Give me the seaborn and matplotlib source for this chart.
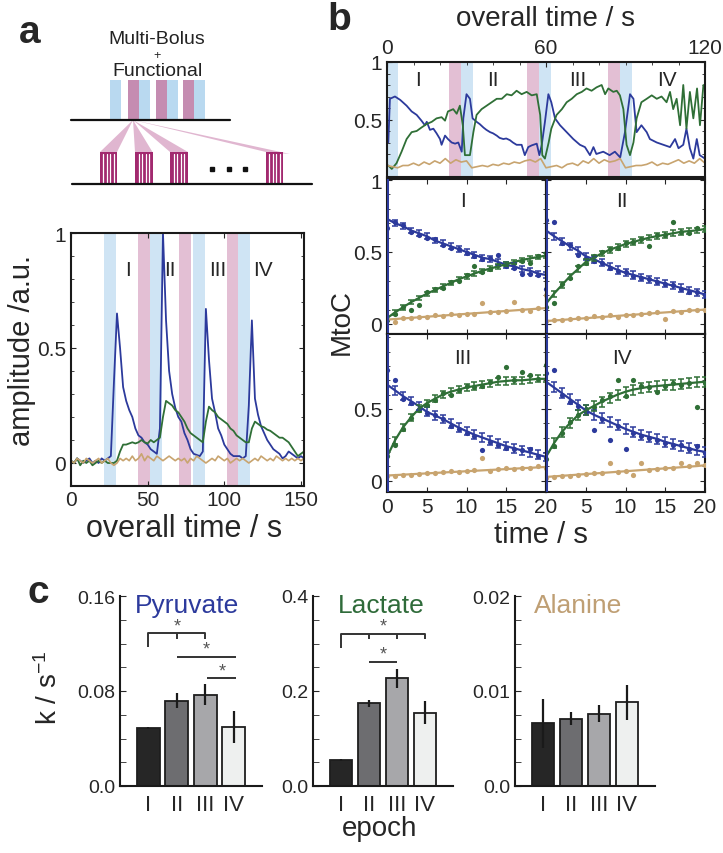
import numpy as np
import pandas as pd
import matplotlib
matplotlib.use("Agg")
import matplotlib.pyplot as plt
import seaborn as sns
from matplotlib.patches import Rectangle, Polygon
from matplotlib.ticker import MultipleLocator

sns.set_style("ticks")
plt.rcParams['font.family'] = ['Liberation Sans', 'DejaVu Sans']
plt.rcParams['mathtext.fontset'] = 'custom'
plt.rcParams['mathtext.rm'] = 'Liberation Sans'
plt.rcParams['mathtext.it'] = 'Liberation Sans'

# ---------------- DATA ----------------
EPOCHS = ["I", "II", "III", "IV"]

# panel a : amplitude vs overall time (2 s sampling)
TA = np.arange(0, 153, 2)
PA_PYR = [0.01, 0.00, 0.02, 0.01, 0.00, 0.01, 0.02, 0.00, 0.01, 0.00,
          0.02, 0.01, 0.02, 0.03, 0.35, 0.65, 0.50, 0.33, 0.27, 0.23,
          0.20, 0.15, 0.12, 0.11, 0.09, 0.08, 0.06, 0.05, 0.04, 0.15,
          1.00, 0.62, 0.40, 0.30, 0.24, 0.20, 0.18, 0.13, 0.10, 0.06,
          0.04, 0.035, 0.03, 0.05, 0.67, 0.45, 0.28, 0.22, 0.15, 0.12,
          0.08, 0.06, 0.04, 0.03, 0.03, 0.03, 0.02, 0.03, 0.25, 0.62,
          0.28, 0.21, 0.16, 0.13, 0.10, 0.08, 0.06, 0.05, 0.04, 0.02,
          0.03, 0.05, 0.04, 0.03, 0.02, 0.03, 0.02]
PA_LAC = [0.01, 0.00, 0.02, -0.01, 0.01, 0.00, 0.01, -0.01, 0.00, 0.01,
          0.00, 0.01, 0.00, 0.00, 0.00, 0.01, 0.05, 0.08, 0.08, 0.085,
          0.09, 0.085, 0.09, 0.10, 0.09, 0.085, 0.10, 0.09, 0.10, 0.11,
          0.20, 0.27, 0.26, 0.25, 0.23, 0.22, 0.20, 0.18, 0.15, 0.13,
          0.12, 0.11, 0.10, 0.09, 0.18, 0.245, 0.23, 0.22, 0.20, 0.19,
          0.18, 0.17, 0.15, 0.14, 0.12, 0.11, 0.10, 0.09, 0.09, 0.15,
          0.18, 0.17, 0.16, 0.155, 0.145, 0.14, 0.13, 0.12, 0.11, 0.11,
          0.10, 0.09, 0.07, 0.05, 0.03, 0.04, 0.05]
PA_ALA = [0.01, 0.00, 0.02, 0.01, 0.00, 0.02, 0.01, 0.00, 0.01, 0.02,
          0.00, 0.01, 0.02, 0.00, -0.01, 0.00, 0.02, 0.01, 0.02, 0.01,
          0.03, 0.01, 0.02, 0.04, 0.01, 0.03, 0.02, 0.01, 0.03, 0.02,
          0.01, 0.02, 0.03, 0.02, 0.01, 0.02, 0.01, 0.02, 0.00, 0.02,
          0.01, 0.03, 0.02, 0.01, 0.00, 0.01, 0.02, 0.01, 0.03, 0.02,
          0.01, 0.02, 0.00, 0.01, 0.02, 0.01, 0.02, 0.01, 0.00, 0.01,
          0.02, 0.01, 0.03, 0.02, 0.01, 0.02, 0.01, 0.03, 0.02, 0.01,
          0.02, 0.01, 0.02, 0.01, 0.02, 0.01, 0.02]
PA_BLUE_BANDS = [(21.7, 29.3), (51.5, 59.6), (79.8, 87.4), (109.0, 116.7)]
PA_PINK_BANDS = [(43.9, 51.5), (70.4, 78.0), (101.5, 109.0)]
PA_LABEL_X = [37, 64.6, 96, 125]

# panel b top : MtoC vs overall time
TB_PYR = [(0.5, .30), (1.1, .68), (3, .70), (5, .67), (7.4, .62), (9.3, .57), (11.2, .54),
          (13, .49), (14.3, .45), (15, .48), (16.2, .41), (17.5, .42), (18.7, .38), (20, .33),
          (20.6, .28), (21.9, .36), (23, .33), (24.4, .30), (25.7, .29), (26.9, .30), (28.2, .22),
          (28.8, .51), (30, .72), (31.3, .68), (32.3, .51), (33.8, .48), (35, .46), (36.4, .43),
          (37.5, .41), (38.9, .39), (40, .38), (41.4, .36), (42.5, .34), (43.9, .33), (45, .335),
          (46.4, .32), (47.5, .30), (48.9, .28), (50.8, .28), (52, .19), (53.3, .26), (54.6, .275),
          (56.5, .29), (57.5, .19), (58.4, .28), (59.6, .48), (60.9, .72), (62, .65), (63.4, .51),
          (65.3, .45), (67.8, .39), (70.3, .33), (72.8, .28), (74.7, .26), (76.6, .19), (77.9, .26),
          (79, .20), (81.6, .22), (84, .19), (86, .22), (88, .17), (89.8, .39), (91.7, .72),
          (93, .68), (94.2, .39), (96, .45), (98, .39), (99.2, .33), (101.8, .30), (104.3, .28),
          (106.8, .26), (108.7, .33), (110, .25), (111.8, .28), (113, .42), (114.3, .25),
          (115.6, .16), (116.9, .33), (118, .19), (120, .16)]
TB_LAC = [(0.5, .10), (1.8, .07), (3.6, .12), (5.5, .22), (7.4, .33), (9.3, .39), (11.2, .40),
          (13, .43), (14.9, .46), (16.9, .48), (18.7, .51), (20.6, .52), (21.9, .49), (23, .57),
          (25, .59), (26.3, .55), (27.5, .62), (28.6, .45), (29.4, .19), (31.3, .19), (32.6, .39),
          (33.8, .54), (35.7, .59), (37.6, .62), (39.5, .65), (41.4, .68), (43.3, .68), (45.2, .72),
          (47, .71), (48.9, .75), (50.8, .72), (52.7, .74), (54.6, .71), (56.5, .72), (57.8, .54),
          (58.6, .19), (59.6, .16), (61, .30), (62, .42), (64, .54), (66, .59), (67.8, .65),
          (69.7, .68), (71.6, .72), (73.5, .74), (75.3, .77), (77.2, .75), (79.1, .78), (81, .80),
          (82.3, .72), (83.5, .77), (85.4, .74), (86.7, .75), (87.9, .71), (89.2, .59), (90.4, .28),
          (91.7, .19), (93, .30), (94.2, .51), (96, .65), (98, .68), (99.9, .71), (101.8, .68),
          (103.6, .70), (105.5, .65), (106.8, .74), (108, .59), (109.3, .68), (110.6, .45),
          (111.8, .80), (113, .42), (114.3, .74), (115.6, .51), (117, .77), (118.1, .45),
          (119.4, .80), (120, .78)]
TB_ALA_T = np.arange(0, 121, 2)
TB_ALA = [0.10, 0.09, 0.08, 0.10, 0.10, 0.12, 0.10, 0.13, 0.11, 0.14,
          0.12, 0.16, 0.12, 0.15, 0.13, 0.14, 0.08, 0.09, 0.10, 0.09,
          0.11, 0.10, 0.12, 0.11, 0.13, 0.12, 0.14, 0.15, 0.13, 0.16,
          0.08, 0.09, 0.10, 0.08, 0.11, 0.12, 0.10, 0.14, 0.12, 0.16,
          0.12, 0.15, 0.13, 0.14, 0.16, 0.08, 0.09, 0.10, 0.10, 0.11,
          0.13, 0.10, 0.12, 0.11, 0.13, 0.15, 0.12, 0.14, 0.12, 0.16, 0.12]
TB_BLUE_BANDS = [(0, 4.3), (27.8, 32.3), (57.4, 61.9), (87.9, 92.3)]
TB_PINK_BANDS = [(23.4, 27.8), (53.0, 57.4), (83.5, 87.9)]
TB_LABEL_X = [11.7, 40, 72, 105.7]

# panel b small panels : MtoC vs time within epoch
T_EPOCH = list(range(21))
FIT_PYR = {
    "I":   [.73, .70, .68, .65, .63, .61, .58, .56, .54, .52, .50, .48, .46, .45, .43, .41, .40, .38, .37, .35, .34],
    "II":  [.65, .61, .575, .54, .51, .47, .45, .425, .40, .375, .355, .34, .325, .31, .295, .28, .265, .25, .235, .22, .205],
    "III": [.67, .63, .59, .555, .52, .48, .455, .43, .40, .37, .345, .32, .30, .28, .26, .24, .225, .21, .195, .18, .165],
    "IV":  [.69, .65, .61, .57, .53, .49, .46, .435, .41, .385, .36, .34, .32, .305, .29, .27, .255, .24, .225, .21, .20],
}
FIT_LAC = {
    "I":   [.04, .08, .115, .15, .18, .21, .235, .26, .285, .31, .33, .35, .37, .385, .40, .415, .43, .445, .455, .465, .475],
    "II":  [.14, .21, .27, .33, .38, .43, .46, .49, .515, .535, .555, .57, .585, .60, .61, .62, .63, .64, .645, .65, .66],
    "III": [.165, .28, .37, .44, .50, .54, .57, .60, .62, .635, .65, .66, .67, .68, .69, .695, .70, .70, .705, .71, .71],
    "IV":  [.165, .26, .34, .40, .455, .49, .52, .55, .575, .60, .62, .635, .645, .655, .66, .665, .67, .675, .68, .685, .69],
}
FIT_ALA = {
    "I":   [.03, .034, .038, .042, .046, .05, .054, .058, .062, .066, .07, .074, .078, .082, .086, .09, .094, .098, .102, .106, .11],
    "II":  [.02, .024, .028, .032, .036, .04, .044, .048, .052, .056, .06, .064, .068, .072, .076, .08, .084, .088, .092, .096, .10],
    "III": [.035, .038, .041, .044, .047, .05, .053, .056, .059, .062, .065, .068, .071, .074, .077, .08, .083, .086, .089, .092, .095],
    "IV":  [.025, .029, .033, .037, .041, .045, .049, .053, .057, .061, .065, .069, .073, .077, .081, .085, .089, .093, .097, .101, .107],
}
DOT_PYR = {
    "I":   [.67, .71, .69, .64, .62, .60, .59, .55, .53, .52, .49, .47, .45, .46, .48, .40, .39, .35, .35, .34, .24],
    "II":  [.72, .71, .56, .55, .48, .46, .44, .42, .39, .37, .36, .33, .32, .31, .29, .28, .27, .24, .22, .22, .20],
    "III": [.77, .70, .57, .54, .50, .47, .46, .43, .38, .36, .33, .31, .21, .27, .25, .23, .22, .21, .22, .17, .16],
    "IV":  [.75, .77, .60, .55, .52, .48, .35, .43, .28, .38, .22, .33, .31, .30, .28, .26, .25, .25, .22, .24, .19],
}
DOT_LAC = {
    "I":   [.03, .07, .12, .095, .13, .22, .24, .25, .29, .30, .34, .40, .36, .38, .41, .41, .42, .44, .42, .47, .49],
    "II":  [.12, .145, .28, .32, .40, .42, .47, .50, .52, .53, .56, .57, .59, .54, .62, .62, .71, .64, .63, .67, .66],
    "III": [.17, .25, .36, .44, .49, .53, .56, .61, .60, .63, .66, .65, .66, .69, .72, .79, .70, .76, .74, .71, .81],
    "IV":  [.15, .24, .33, .41, .46, .50, .51, .56, .59, .70, .59, .70, .66, .65, .62, .66, .68, .67, .68, .51, .68],
}
DOT_ALA = {
    "I":   [.03, .015, .04, .04, .05, .045, .06, .055, .07, .06, .07, .07, .145, .085, .08, .09, .15, .10, .09, .11, .20],
    "II":  [.02, .025, .03, .035, .04, .04, .055, .05, .06, .05, .065, .06, .07, .075, .08, .037, .09, .085, .10, .095, .10],
    "III": [.03, .035, .04, .04, .045, .05, .05, .06, .065, .06, .07, .075, .16, .07, .08, .085, .08, .09, .085, .10, .09],
    "IV":  [.02, .025, .035, .03, .04, .045, .05, .05, .12, .06, .065, .037, .12, .075, .08, .09, .085, .12, .10, .12, .11],
}
ERR_PYR = [0.02, 0.025, 0.03, 0.035]
ERR_LAC = [0.015, 0.02, 0.025, 0.035]

# panel c : rate constants
K_PYR = [0.049, 0.072, 0.077, 0.050]
K_PYR_ERR = [0.001, 0.0065, 0.0085, 0.0135]
K_LAC = [0.055, 0.174, 0.227, 0.154]
K_LAC_ERR = [0.002, 0.008, 0.020, 0.024]
K_ALA = [0.0066, 0.0071, 0.0076, 0.0088]
K_ALA_ERR = [0.0026, 0.0007, 0.0009, 0.0018]

# ---------------- STYLE ----------------
C_PYR = "#2c3a9c"
C_LAC = "#2f6f36"
C_ALA = "#c8a46f"
BAND_BLUE = "#cfe4f4"
BAND_PINK = "#e3bfd4"
BAR_COLORS = ["#262626", "#6d6d70", "#a6a7aa", "#eef0ef"]

W, H = 723, 854
fig = plt.figure(figsize=(W / 100, H / 100), dpi=100)


def px_axes(l, t, r, b):
    return fig.add_axes([l / W, 1 - b / H, (r - l) / W, (b - t) / H])


def ftext(x, y, s, **kw):
    fig.text(x / W, 1 - y / H, s, **kw)


def style_spines(ax, lw=1.5):
    for sp in ax.spines.values():
        sp.set_linewidth(lw)
        sp.set_color("#1a1a1a")


# ---------------- panel a : schematic ----------------
ax0 = px_axes(0, 0, 330, 200)
ax0.set_xlim(0, 330)
ax0.set_ylim(200, 0)
ax0.axis("off")
for x0 in [110, 139, 167, 194]:
    ax0.add_patch(Rectangle((x0, 81), 11, 40, color="#b9d9f0", lw=0))
for x0 in [128, 156, 183]:
    ax0.add_patch(Rectangle((x0, 81), 11, 40, color="#c58cb1", lw=0))
apex = (133, 121)
for (xl, xr, yr) in [(100, 117, 153), (135, 152.5, 153), (170, 188, 153), (266, 290, 155)]:
    ax0.add_patch(Polygon([apex, (xl, 153), (xr, yr)], closed=True,
                          color="#dba9c8", alpha=0.85, lw=0))
for (xl, xr) in [(100, 117), (135, 152.5), (170, 188), (266, 283)]:
    ax0.add_patch(Rectangle((xl, 153), xr - xl, 32, color="#a2296f", lw=0))
    wdt = (xr - xl) / 5
    for k in range(1, 5):
        ax0.plot([xl + k * wdt, xl + k * wdt], [155, 185], color="white", lw=0.9)
ax0.plot([71, 230], [121, 121], color="#111", lw=1.6)
ax0.plot([72, 312], [185, 185], color="#111", lw=1.6)
ax0.plot([212, 229, 245], [170, 170, 170], "s", color="#111", ms=3)
ax0.text(157, 39, "Multi-Bolus", ha="center", va="center", fontsize=14, color="#222")
ax0.text(157, 56, "+", ha="center", va="center", fontsize=9, color="#222")
ax0.text(157, 71, "Functional", ha="center", va="center", fontsize=14, color="#222")

# ---------------- panel a : amplitude ----------------
axA = px_axes(71, 234, 304, 487)
for a, b in PA_BLUE_BANDS:
    axA.axvspan(a, b, color=BAND_BLUE, lw=0, zorder=0)
for a, b in PA_PINK_BANDS:
    axA.axvspan(a, b, color=BAND_PINK, lw=0, zorder=0)
dfa = pd.DataFrame({"t": TA, "pyr": PA_PYR, "lac": PA_LAC, "ala": PA_ALA})
sns.lineplot(data=dfa, x="t", y="pyr", ax=axA, color=C_PYR, lw=1.3, errorbar=None)
sns.lineplot(data=dfa, x="t", y="lac", ax=axA, color=C_LAC, lw=1.3, errorbar=None)
sns.lineplot(data=dfa, x="t", y="ala", ax=axA, color=C_ALA, lw=1.2, errorbar=None)
axA.set_xlim(0, 152)
axA.set_ylim(-0.1, 1)
axA.set_xticks([0, 50, 100, 150])
axA.set_yticks([0, 0.5, 1])
axA.set_yticklabels(["0", "0.5", "1"])
axA.yaxis.set_minor_locator(MultipleLocator(0.1))
axA.tick_params(which="both", direction="in", top=True, right=True)
axA.tick_params(axis="x", labelsize=15, pad=3)
axA.tick_params(axis="y", labelsize=15)
axA.set_xlabel("")
axA.set_ylabel("")
for lbl, x in zip(EPOCHS, PA_LABEL_X):
    axA.text(x, 0.84, lbl, ha="center", va="center", fontsize=15)
style_spines(axA)
ftext(22, 351, "amplitude /a.u.", rotation=90, ha="center", va="center", fontsize=21)
ftext(184, 529, "overall time / s", ha="center", va="center", fontsize=22)

# ---------------- panel b : top ----------------
axT = px_axes(387, 63, 705, 178)
for a, b in TB_BLUE_BANDS:
    axT.axvspan(a, b, color=BAND_BLUE, lw=0, zorder=0)
for a, b in TB_PINK_BANDS:
    axT.axvspan(a, b, color=BAND_PINK, lw=0, zorder=0)
tp, yp = zip(*TB_PYR)
tl, yl = zip(*TB_LAC)
sns.lineplot(x=list(tp), y=list(yp), ax=axT, color=C_PYR, lw=1.3, errorbar=None, sort=False)
sns.lineplot(x=list(tl), y=list(yl), ax=axT, color=C_LAC, lw=1.3, errorbar=None, sort=False)
sns.lineplot(x=TB_ALA_T, y=TB_ALA, ax=axT, color=C_ALA, lw=1.2, errorbar=None)
axT.set_xlim(0, 120)
axT.set_ylim(0, 1)
axT.xaxis.tick_top()
axT.set_xticks([0, 60, 120])
axT.set_yticks([0.5, 1])
axT.set_yticklabels(["0.5", "1"])
axT.yaxis.set_minor_locator(MultipleLocator(0.1))
axT.xaxis.set_minor_locator(MultipleLocator(10))
axT.tick_params(which="both", direction="in", top=True, bottom=False, right=True,
                labeltop=True, labelbottom=False)
axT.tick_params(labelsize=15)
axT.set_xlabel("")
axT.set_ylabel("")
for lbl, x in zip(EPOCHS, TB_LABEL_X):
    axT.text(x, 0.85, lbl, ha="center", va="center", fontsize=15)
style_spines(axT)
ftext(546, 19, "overall time / s", ha="center", va="center", fontsize=20)

# ---------------- panel b : small panels ----------------
small_pos = {"I": (387, 180, 546, 335), "II": (546, 180, 705, 335),
             "III": (387, 335, 546, 493), "IV": (546, 335, 705, 493)}
small_ylim = {"I": (-0.07, 1.007), "II": (-0.07, 1.007),
              "III": (-0.08, 1.023), "IV": (-0.08, 1.023)}
for i, ep in enumerate(EPOCHS):
    ax = px_axes(*small_pos[ep])
    for fit, dots, col in [(FIT_ALA[ep], DOT_ALA[ep], C_ALA),
                           (FIT_PYR[ep], DOT_PYR[ep], C_PYR),
                           (FIT_LAC[ep], DOT_LAC[ep], C_LAC)]:
        sns.scatterplot(x=T_EPOCH, y=dots, ax=ax, color=col, s=14, linewidth=0, zorder=3)
        sns.lineplot(x=T_EPOCH, y=fit, ax=ax, color=col, lw=1.6, errorbar=None, zorder=4)
    ax.errorbar(T_EPOCH[1:], FIT_PYR[ep][1:], yerr=ERR_PYR[i], fmt="none",
                ecolor=C_PYR, elinewidth=1.1, capsize=2, capthick=1.1, zorder=4)
    ax.errorbar(T_EPOCH[1:], FIT_LAC[ep][1:], yerr=ERR_LAC[i], fmt="none",
                ecolor=C_LAC, elinewidth=1.1, capsize=2, capthick=1.1, zorder=4)
    ax.axvline(0, color=C_PYR, lw=2.2, zorder=5)
    ax.set_xlim(0, 20)
    ax.set_ylim(*small_ylim[ep])
    ax.set_xticks([0, 5, 10, 15, 20])
    ax.yaxis.set_minor_locator(MultipleLocator(0.1))
    ax.tick_params(which="both", direction="in", top=True, right=True, labelsize=15)
    ax.set_xlabel("")
    ax.set_ylabel("")
    row2 = ep in ("III", "IV")
    col1 = ep in ("I", "III")
    if col1:
        if row2:
            ax.set_yticks([0, 0.5])
            ax.set_yticklabels(["0", "0.5"])
        else:
            ax.set_yticks([0, 0.5, 1])
            ax.set_yticklabels(["0", "0.5", "1"])
    else:
        ax.set_yticks([0, 0.5, 1] if not row2 else [0, 0.5])
        ax.set_yticklabels([])
    if row2:
        ax.set_xticklabels(["0", "5", "10", "15", "20"] if col1 else ["", "5", "10", "15", "20"])
    else:
        ax.set_xticklabels([])
    ax.text(9.5, 0.86, ep, ha="center", va="center", fontsize=15)
    style_spines(ax)
ftext(342, 322, "MtoC", rotation=90, ha="center", va="center", fontsize=20)
ftext(541, 535, "time / s", ha="center", va="center", fontsize=21)

# ---------------- panel c : bars ----------------
bar_pos = [(120, 597, 262, 787), (313, 597, 453, 787), (515, 597, 655, 787)]
bar_sets = [
    ("Pyruvate", K_PYR, K_PYR_ERR, C_PYR, 0.16, ["0.0", "0.08", "0.16"], 0.02, 0.475),
    ("Lactate", K_LAC, K_LAC_ERR, "#2f6b3a", 0.4, ["0.0", "0.2", "0.4"], 0.05, 0.49),
    ("Alanine", K_ALA, K_ALA_ERR, "#bf9f74", 0.02, ["0.0", "0.01", "0.02"], 0.0025, 0.454),
]
SIG_PYR_LINES = [[(0, 0.117), (0, 0.129), (2, 0.129), (2, 0.124)],
                 [(1, 0.129), (1, 0.124)],
                 [(1, 0.109), (3.1, 0.109)],
                 [(2.08, 0.091), (3.1, 0.091)]]
SIG_PYR_STARS = [(1, 0.135), (2.05, 0.115), (2.6, 0.097)]
SIG_LAC_LINES = [[(0, 0.29), (0, 0.32), (3, 0.32), (3, 0.31)],
                 [(1, 0.32), (1, 0.31)], [(2, 0.32), (2, 0.31)],
                 [(1, 0.262), (2, 0.262)]]
SIG_LAC_STARS = [(1.5, 0.336), (1.5, 0.278)]
sig = [(SIG_PYR_LINES, SIG_PYR_STARS), (SIG_LAC_LINES, SIG_LAC_STARS), ([], [])]

for (title, vals, errs, tcol, ymax, ylabs, minor, tx), pos, (lines, stars) in zip(bar_sets, bar_pos, sig):
    ax = px_axes(*pos)
    dfc = pd.DataFrame({"epoch": EPOCHS, "k": vals})
    sns.barplot(data=dfc, x="epoch", y="k", hue="epoch", palette=BAR_COLORS, legend=False,
                ax=ax, errorbar=None, width=0.8, edgecolor="#1e1e1e", linewidth=1.3, zorder=2)
    ax.errorbar(np.arange(len(EPOCHS)), vals, yerr=errs, fmt="none", ecolor="#1a1a1a",
                elinewidth=1.6, capsize=0, zorder=3)
    for seg in lines:
        xs, ys = zip(*seg)
        ax.plot(xs, ys, color="#333", lw=1.4, solid_capstyle="butt")
    for sx, sy in stars:
        ax.text(sx, sy, "*", ha="center", va="center", fontsize=13, color="#555")
    ax.set_xlim(-1, 4)
    ax.set_ylim(0, ymax)
    ax.set_yticks([0, ymax / 2, ymax])
    ax.set_yticklabels(ylabs)
    ax.yaxis.set_minor_locator(MultipleLocator(minor))
    ax.tick_params(axis="y", which="both", direction="in", labelsize=14, length=4)
    ax.tick_params(axis="x", length=0, labelsize=16, pad=6)
    ax.set_xlabel("")
    ax.set_ylabel("")
    sns.despine(ax=ax)
    ax.spines["left"].set_linewidth(1.5)
    ax.spines["bottom"].set_linewidth(1.5)
    ax.spines["left"].set_color("#1a1a1a")
    ax.spines["bottom"].set_color("#1a1a1a")
    ax.text(tx, 0.955, title, transform=ax.transAxes, ha="center", va="center",
            fontsize=19, color=tcol)

ftext(49, 688, "k / s$^{-1}$", rotation=90, ha="center", va="center", fontsize=20)
ftext(380, 829, "epoch", ha="center", va="center", fontsize=20)

# panel letters
ftext(30, 33, "a", ha="center", va="center", fontsize=28, fontweight="bold")
ftext(339, 20, "b", ha="center", va="center", fontsize=28, fontweight="bold")
ftext(38, 593, "c", ha="center", va="center", fontsize=28, fontweight="bold")

fig.savefig("out.png", dpi=100)
